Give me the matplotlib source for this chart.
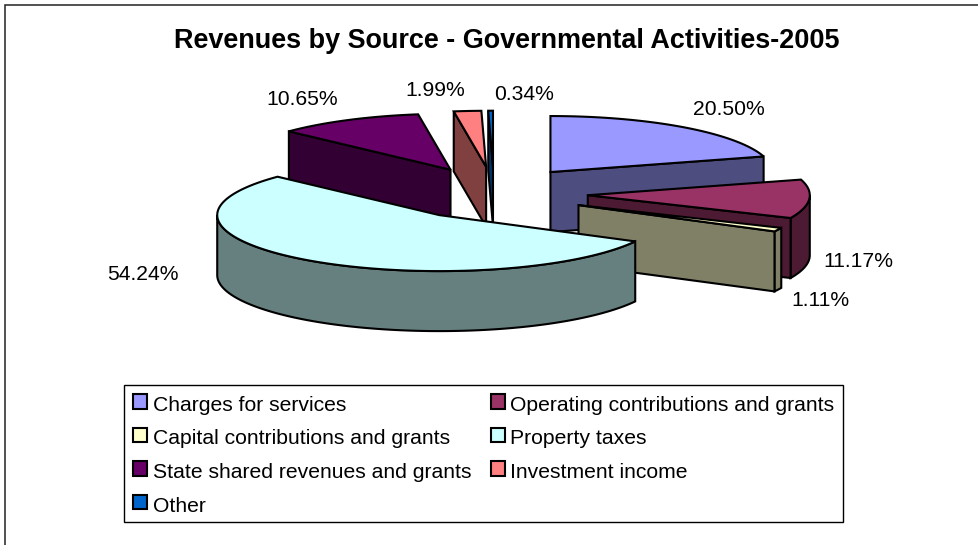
import numpy as np
import matplotlib
matplotlib.use("Agg")
import matplotlib.pyplot as plt
from matplotlib.patches import Patch, Polygon

plt.rcParams['font.family'] = ['Liberation Sans', 'DejaVu Sans']

title = "Revenues by Source - Governmental Activities-2005"

# slices, clockwise from 12 o'clock
categories = ["Charges for services", "Operating contributions and grants",
              "Capital contributions and grants", "Property taxes",
              "State shared revenues and grants", "Investment income", "Other"]
values = [20.50, 11.17, 1.11, 54.24, 10.65, 1.99, 0.34]
top_colors = ["#9999FF", "#993366", "#FFFFCC", "#CCFFFF", "#660066", "#FF8080", "#0066CC"]
side_colors = ["#4D4D80", "#4D1A33", "#808066", "#668080", "#330033", "#804040", "#003366"]

# where each percent label sits
label_pos = [(729, 109.5), (858, 261.5), (820, 300.5), (143, 274.5), (302, 99.5), (435, 90.5), (524, 94.5)]

# pie geometry in pixels
CX, CY = 494, 193.4
RX, RY = 222, 56
EXPLODE_X, EXPLODE_Y = 94, 26.7
DEPTH = 60
LW = 1.5

fig = plt.figure(figsize=(9.79, 5.45), dpi=100)
ax = fig.add_axes([0, 0, 1, 1])
ax.set_xlim(0, 979)
ax.set_ylim(545, 0)
ax.axis("off")

# chart border, only left and top show in the original
ax.plot([5, 5, 979], [545, 5, 5], color="#222222", lw=1.1, solid_joinstyle="miter", zorder=0)


def rim(cx, cy, a, b):
    t = np.radians(np.linspace(a, b, max(int(abs(b - a)) * 2, 2)))
    return np.column_stack([cx + RX * np.sin(t), cy - RY * np.cos(t)])


def draw_slice(i, a, b, z):
    mid = np.radians((a + b) / 2)
    cx = CX + EXPLODE_X * np.sin(mid)
    cy = CY - EXPLODE_Y * np.cos(mid)
    apex = np.array([cx, cy])
    drop = np.array([0, DEPTH])
    style = dict(ec="black", lw=LW, joinstyle="miter", zorder=z)

    # outer wall, only the part facing the viewer
    lo, hi = max(a, 90), min(b, 270)
    if lo < hi:
        arc = rim(cx, cy, lo, hi)
        ax.add_patch(Polygon(np.vstack([arc, arc[::-1] + drop]), fc=side_colors[i], **style))
    # cut faces
    if np.sin(np.radians(a)) < -1e-6:
        p = rim(cx, cy, a, a + 0.01)[0]
        ax.add_patch(Polygon([apex, p, p + drop, apex + drop], fc=side_colors[i], **style))
    if np.sin(np.radians(b)) > 1e-6:
        p = rim(cx, cy, b, b + 0.01)[0]
        ax.add_patch(Polygon([apex, p, p + drop, apex + drop], fc=side_colors[i], **style))
    ax.add_patch(Polygon(np.vstack([apex, rim(cx, cy, a, b)]), fc=top_colors[i], **style))


edges = np.concatenate([[0], np.cumsum(values)]) * 3.6 / sum(values) * 100
# back to front
for z, i in enumerate([6, 5, 4, 0, 1, 2, 3]):
    draw_slice(i, edges[i], edges[i + 1], z + 1)

for v, (x, y) in zip(values, label_pos):
    ax.text(x, y, f"{v:.2f}%", ha="center", va="center", fontsize=15.2, color="black", zorder=20)

ax.text(507, 40.5, title, ha="center", va="center", fontsize=19.45, fontweight="bold", zorder=20)

# legend fills row by row in the original, matplotlib goes by column
order = [0, 2, 4, 6, 1, 3, 5]
handles = [Patch(fc=top_colors[i], ec="black", lw=LW) for i in order]
leg = ax.legend(handles, [categories[i] for i in order], ncol=2,
                loc="upper left", bbox_to_anchor=(124 / 979, 1 - 385 / 545),
                fontsize=15.2, frameon=True, fancybox=False, edgecolor="black",
                framealpha=1, borderaxespad=0, borderpad=0.42, labelspacing=0.69,
                handlelength=0.66, handleheight=0.68, handletextpad=0.28, columnspacing=0.92)
leg.get_frame().set_linewidth(1.0)
leg.set_zorder(20)
# nudge legend text down a little, frame stays put
for t in leg.get_texts():
    t.set_y(-2)

fig.savefig("out.png", dpi=100)
